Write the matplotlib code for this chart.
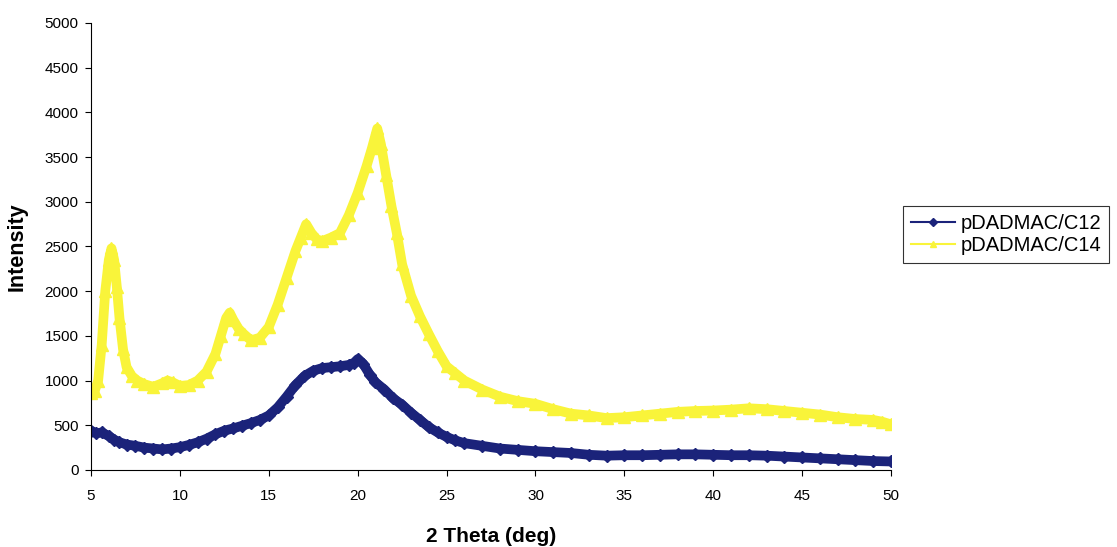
import matplotlib
matplotlib.use("Agg")
import matplotlib.pyplot as plt
from matplotlib.lines import Line2D

plt.rcParams['font.family'] = ['Liberation Sans', 'DejaVu Sans']

# values
theta_c12 = [5.0, 5.3, 5.6, 6.0, 6.3, 6.6, 7.0, 7.5, 8.0, 8.5, 9.0, 9.5, 10.0, 10.5,
             11.0, 11.5, 12.0, 12.5, 13.0, 13.5, 14.0, 14.5, 15.0, 15.5, 16.0, 16.5,
             17.0, 17.5, 18.0, 18.5, 19.0, 19.5, 19.8, 20.0, 20.3, 20.7, 21.0, 21.5,
             22.0, 22.5, 23.0, 23.5, 24.0, 24.5, 25.0, 25.5, 26.0, 27.0, 28.0, 29.0,
             30.0, 31.0, 32.0, 33.0, 34.0, 35.0, 36.0, 37.0, 38.0, 39.0, 40.0, 41.0,
             42.0, 43.0, 44.0, 45.0, 46.0, 47.0, 48.0, 49.0, 50.0]
int_c12 = [440, 410, 420, 380, 340, 310, 285, 270, 250, 240, 230, 240, 255, 280,
           310, 350, 400, 440, 465, 495, 525, 560, 610, 700, 820, 950,
           1050, 1110, 1140, 1150, 1160, 1175, 1200, 1240, 1190, 1060, 980, 900,
           800, 730, 640, 560, 480, 420, 370, 330, 300, 270, 240, 225,
           210, 200, 190, 170, 160, 165, 165, 170, 175, 175, 170, 165,
           165, 160, 150, 140, 130, 120, 110, 100, 95]

theta_c14 = [5.0, 5.2, 5.4, 5.6, 5.8, 6.0, 6.15, 6.3, 6.45, 6.6, 6.8, 7.0, 7.3, 7.6,
             8.0, 8.5, 9.0, 9.3, 9.6, 10.0, 10.5, 11.0, 11.5, 12.0, 12.3, 12.6, 12.8,
             13.0, 13.3, 13.6, 14.0, 14.5, 15.0, 15.5, 16.0, 16.5, 16.8, 17.1, 17.4,
             17.7, 18.0, 18.5, 19.0, 19.5, 20.0, 20.5, 20.8, 21.1, 21.3, 21.6, 21.9,
             22.2, 22.5, 23.0, 23.5, 24.0, 24.5, 25.0, 25.5, 26.0, 27.0, 28.0, 29.0,
             30.0, 31.0, 32.0, 33.0, 34.0, 35.0, 36.0, 37.0, 38.0, 39.0, 40.0, 41.0,
             42.0, 43.0, 44.0, 45.0, 46.0, 47.0, 48.0, 49.0, 49.5, 50.0]
int_c14 = [860, 880, 1000, 1400, 2000, 2350, 2480, 2350, 2050, 1700, 1350, 1150, 1050, 1000,
           960, 930, 970, 1000, 980, 940, 950, 1000, 1100, 1300, 1500, 1700, 1760,
           1680, 1580, 1520, 1450, 1480, 1600, 1850, 2150, 2450, 2600, 2750, 2650,
           2580, 2560, 2600, 2650, 2850, 3100, 3400, 3600, 3820, 3650, 3300, 2950,
           2650, 2300, 1950, 1720, 1520, 1330, 1160, 1080, 1000, 900, 820, 770,
           740, 680, 630, 610, 580, 590, 610, 630, 650, 660, 665, 675,
           690, 680, 660, 640, 620, 590, 570, 560, 540, 510]

fig = plt.figure(figsize=(11.17, 5.47), dpi=100)
ax = fig.add_axes([0.0815, 0.1408, 0.7162, 0.8172])

navy = '#1B237A'
yellow = '#F9F43A'

# thick line + markers to mimic the dense, overlapping point band
ax.plot(theta_c12, int_c12, color=navy, lw=7, marker='D', ms=6,
        mec=navy, mfc=navy, label='pDADMAC/C12', solid_capstyle='round',
        solid_joinstyle='round')
ax.plot(theta_c14, int_c14, color=yellow, lw=7, marker='^', ms=8,
        mec=yellow, mfc=yellow, label='pDADMAC/C14', solid_capstyle='round',
        solid_joinstyle='round')

ax.set_xlim(5, 50)
ax.set_ylim(0, 5000)
ax.set_xticks(range(5, 51, 5))
ax.set_yticks(range(0, 5001, 500))
ax.tick_params(axis='both', direction='out', length=4, labelsize=11, width=0.8)
ax.tick_params(axis='x', pad=10)
ax.tick_params(axis='y', pad=5)

for side in ['top', 'right']:
    ax.spines[side].set_visible(False)

ax.set_xlabel('2 Theta (deg)', fontsize=15, fontweight='bold', labelpad=17)
ax.set_ylabel('Intensity', fontsize=15.5, fontweight='bold', labelpad=12)

# legend handles drawn thinner than the data band
handles = [Line2D([], [], color=navy, lw=1.5, marker='D', ms=4, mfc=navy, mec=navy),
           Line2D([], [], color=yellow, lw=1.5, marker='^', ms=5, mfc=yellow, mec=yellow)]
leg = ax.legend(handles, ['pDADMAC/C12', 'pDADMAC/C14'], loc='upper left',
                bbox_to_anchor=(1.015, 0.59), borderaxespad=0, fancybox=False,
                edgecolor='black', fontsize=14.5, handlelength=2.2,
                handletextpad=0.25, labelspacing=0.15, borderpad=0.4)
leg.get_frame().set_linewidth(0.8)

fig.savefig('out.png', dpi=100)
